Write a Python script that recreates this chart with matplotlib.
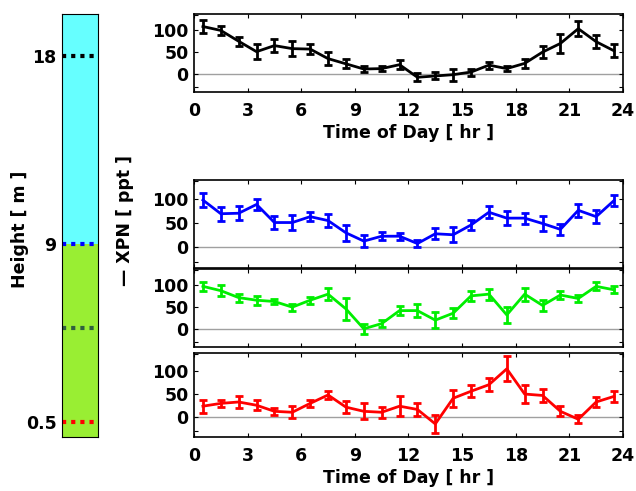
import matplotlib
matplotlib.use("Agg")
import matplotlib.pyplot as plt
import numpy as np

plt.rcParams['font.family'] = 'DejaVu Sans'
plt.rcParams['font.weight'] = 'bold'

# ----------------- data -----------------
hours = np.arange(0.5, 24, 1.0)

xpn_18m = [109, 100, 75, 51, 65, 58, 57, 35, 23, 11, 12, 21, -8, -5, -2, 4,
           20, 12, 24, 50, 70, 104, 74, 53]
err_18m = [14, 10, 10, 17, 15, 17, 12, 15, 10, 7, 6, 10, 9, 8, 14, 8,
           8, 6, 11, 14, 21, 18, 15, 15]

xpn_9m = [97, 69, 70, 88, 51, 51, 63, 55, 30, 13, 23, 23, 8, 28, 26, 46,
          72, 60, 60, 49, 37, 76, 63, 96]
err_9m = [14, 14, 14, 11, 13, 15, 9, 13, 16, 12, 8, 7, 8, 11, 15, 11,
          12, 14, 11, 15, 12, 13, 13, 11]

xpn_5m = [98, 88, 72, 66, 63, 50, 66, 80, 46, 0, 12, 42, 42, 20, 36, 76,
          80, 32, 80, 54, 78, 70, 98, 90]
err_5m = [11, 12, 9, 10, 6, 8, 8, 14, 25, 12, 9, 11, 15, 18, 12, 12,
          13, 18, 15, 12, 10, 8, 9, 8]

xpn_05m = [24, 30, 33, 26, 13, 11, 30, 48, 22, 13, 11, 24, 17, -14, 41, 56,
           70, 104, 50, 47, 13, -4, 33, 45]
err_05m = [14, 8, 12, 11, 8, 13, 8, 8, 13, 17, 12, 21, 14, 19, 18, 13,
           14, 27, 19, 13, 11, 9, 10, 11]

heights = [18, 9, 5, 0.5]
height_labels = ['18', '9', '', '0.5']
height_colors = ['black', '#0000ff', '#2f5f3f', '#ff0000']

xticks = np.arange(0, 25, 3)
FS = 12.5

# ----------------- figure -----------------
fig = plt.figure(figsize=(6.36, 4.91), dpi=100)

# height bar
axb = fig.add_axes([0.0975, 0.110, 0.0566, 0.8615])
axb.axhspan(-1, 9, color='#99ee33', lw=0)
axb.axhspan(9, 21, color='#66ffff', lw=0)
for h, c in zip(heights, height_colors):
    axb.plot([0, 1], [h, h], color=c, lw=3, ls=(0, (1, 1.2)))
axb.set_xlim(0, 1)
axb.set_ylim(-0.2, 20)
axb.set_xticks([])
axb.set_yticks([h for h, l in zip(heights, height_labels) if l])
axb.set_yticklabels([l for l in height_labels if l], fontsize=FS, fontweight='bold')
axb.tick_params(axis='y', length=0, pad=4)

fig.text(0.032, 0.533, 'Height [ m ]', rotation=90, ha='center', va='center',
         fontsize=FS, fontweight='bold')
fig.text(0.197, 0.55, '\u2014 XPN [ ppt ]', rotation=90, ha='center', va='center',
         fontsize=FS, fontweight='bold')

panels = [
    ([0.305, 0.8126, 0.6745, 0.159], xpn_18m, err_18m, 'black', True),
    ([0.305, 0.4542, 0.6745, 0.1792], xpn_9m, err_9m, '#0000ff', False),
    ([0.305, 0.2933, 0.6745, 0.1588], xpn_5m, err_5m, '#00ee00', False),
    ([0.305, 0.110, 0.6745, 0.1711], xpn_05m, err_05m, '#ff0000', True),
]

for rect, vals, errs, col, show_x in panels:
    ax = fig.add_axes(rect)
    ax.axhline(0, color='#a0a0a0', lw=1, zorder=1)
    ax.errorbar(hours, vals, yerr=errs, color=col, lw=2, elinewidth=2,
                capsize=3, capthick=2, zorder=3)
    ax.set_xlim(0, 24)
    ax.set_ylim(-42, 138)
    ax.set_xticks(xticks)
    ax.set_yticks([-30, 0, 50, 100, 135])
    ax.set_yticklabels(['', '0', '50', '100', ''], fontsize=FS, fontweight='bold')
    ax.tick_params(direction='in', top=True, right=True, length=3, width=0.8)
    ax.tick_params(axis='x', pad=7)
    ax.tick_params(axis='y', pad=4)
    if show_x:
        ax.set_xticklabels([str(t) for t in xticks], fontsize=FS, fontweight='bold')
        ax.set_xlabel('Time of Day [ hr ]', fontsize=FS, fontweight='bold', labelpad=3)
    else:
        ax.set_xticklabels([])
    for s in ax.spines.values():
        s.set_linewidth(1.2)

fig.savefig('out.png', dpi=100)
